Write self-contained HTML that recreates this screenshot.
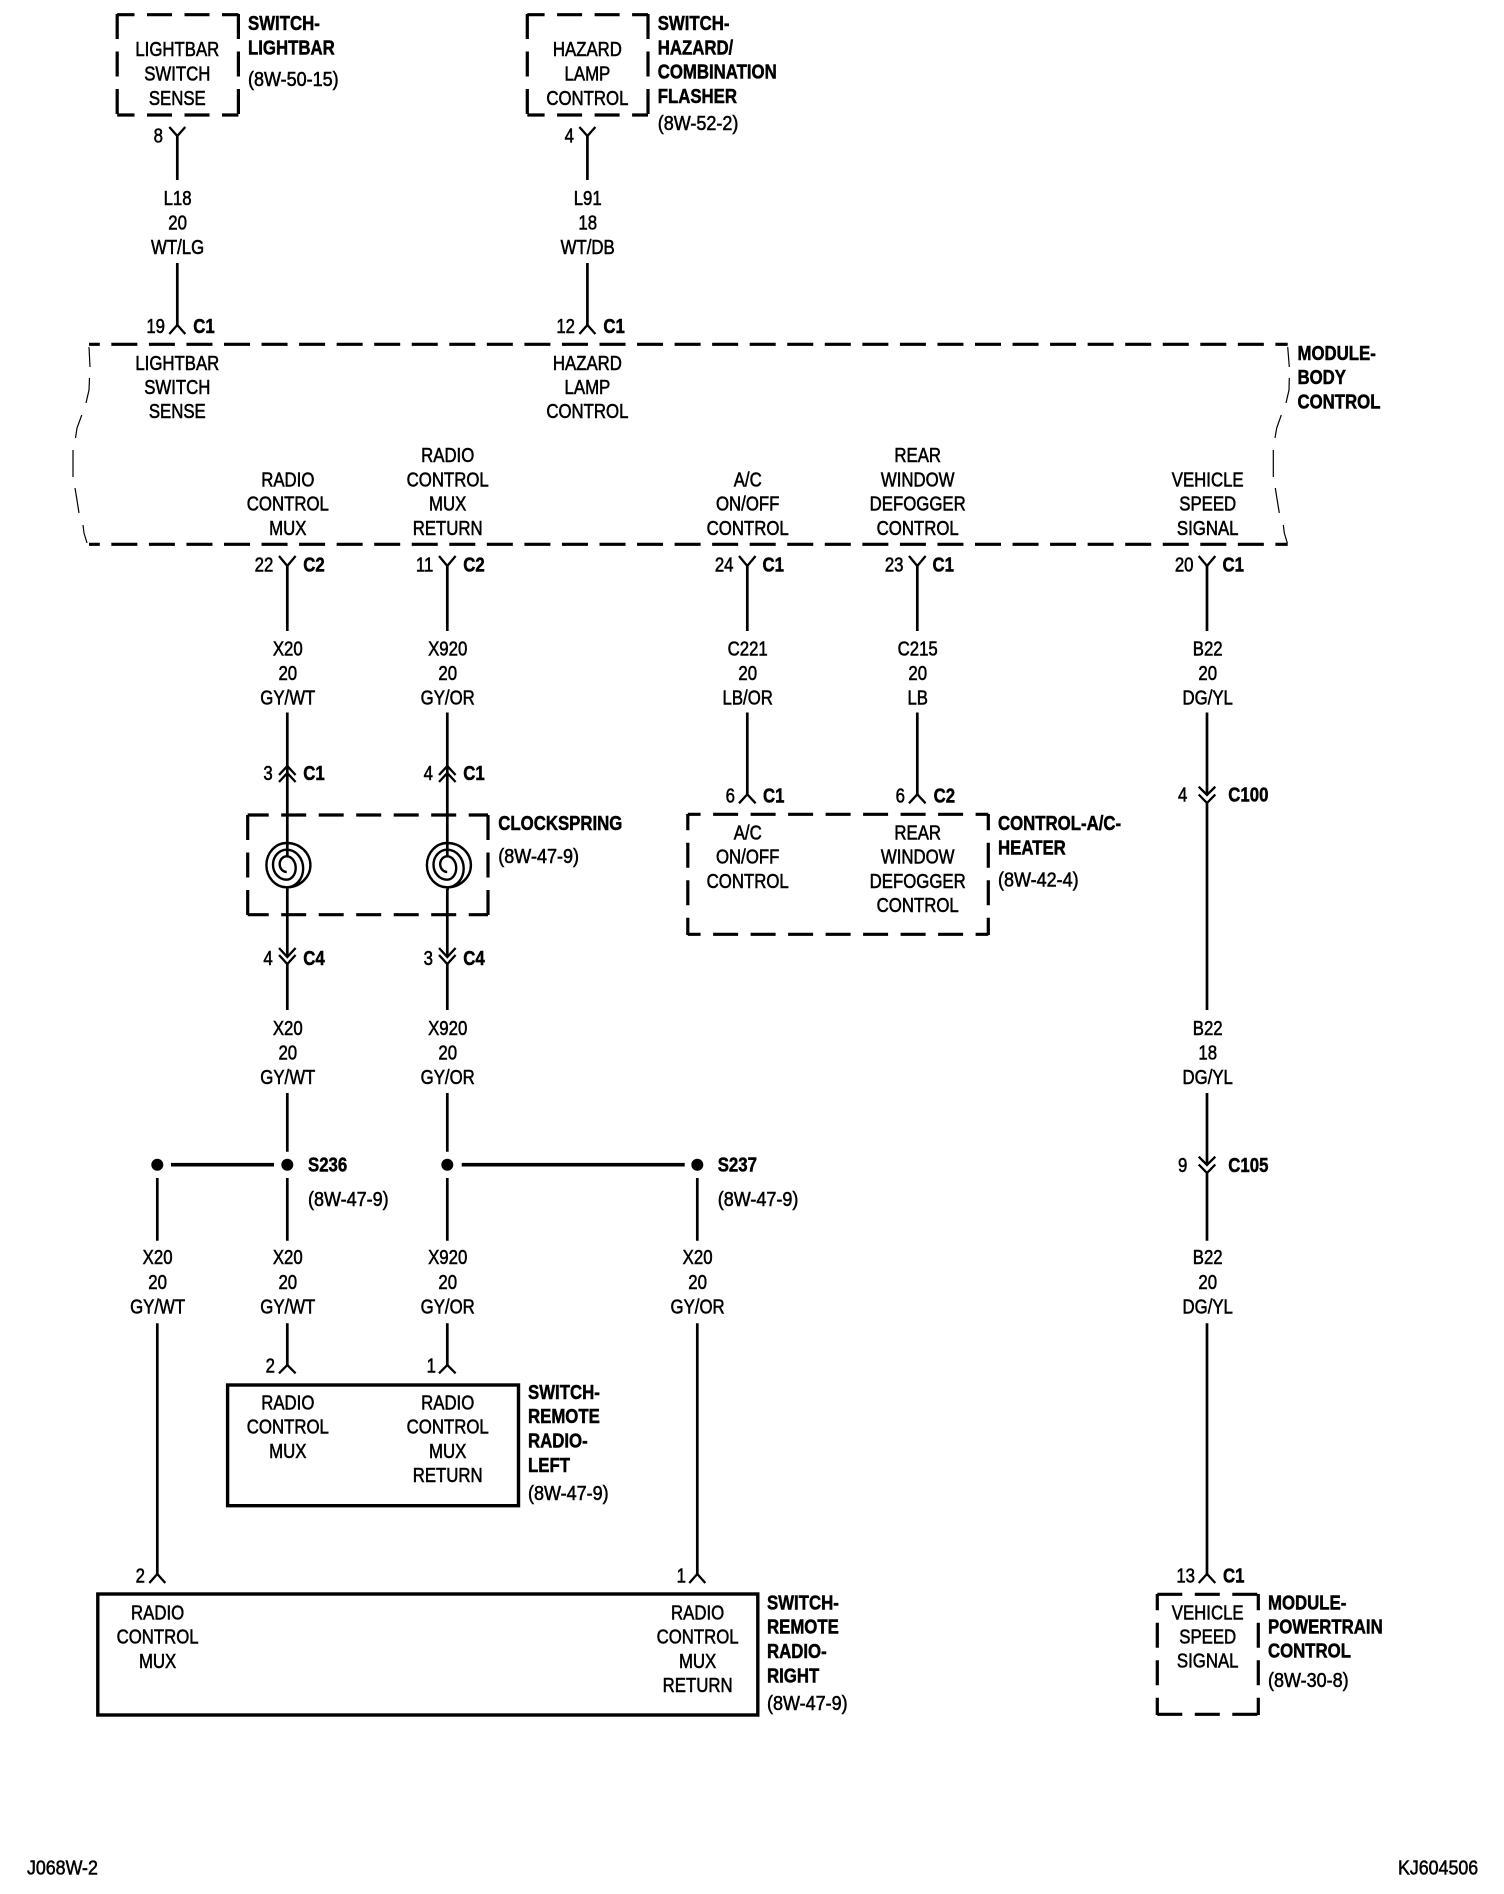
<!DOCTYPE html>
<html><head><meta charset="utf-8"><style>
html,body{margin:0;padding:0;background:#fff}
svg{display:block}
text{font-family:"Liberation Sans",sans-serif;font-size:20px;fill:#000;stroke:#000;stroke-width:.55}
.c{text-anchor:middle}.r{text-anchor:end}.b{font-weight:bold;stroke-width:.5}
.w{fill:none;stroke:#000;stroke-width:2.7}
.f{fill:none;stroke:#000;stroke-width:2.3}
.s{fill:none;stroke:#000;stroke-width:2.4}
.d{stroke:#000;stroke-width:3.2;fill:none}
.t{fill:none;stroke:#000;stroke-width:1.2}
</style></head><body>
<svg width="1504" height="1894" viewBox="0 0 1504 1894" xmlns="http://www.w3.org/2000/svg">
<rect width="1504" height="1894" fill="#fff"/>
<!-- wires -->
<path class="w" d="M177.3 135V180M177.3 263V325M587.4 135V180M587.4 263V325
M287.3 565V631M287.3 712.5V856M287.3 889V957M287.3 964V1010M287.3 1093V1151.7M287.3 1178V1240.7M287.3 1323.3V1365
M447.3 565V631M447.3 712.5V856M447.3 889V957M447.3 964V1010M447.3 1093V1151.7M447.3 1178V1240.7M447.3 1323.3V1365
M747.3 565V631M747.3 712.5V794.3M917.3 565V631M917.3 712.5V794.3
M1207 565V631M1207 712.5V795M1207 803V1010M1207 1093V1165M1207 1173V1240.7M1207 1323.3V1574
M157.3 1178V1240.7M157.3 1323.3V1574M697.3 1178V1240.7M697.3 1323.3V1574"/>
<!-- forks -->
<path class="f" d="M169.3 127L177.3 136L185.3 127M579.4 127L587.4 136L595.4 127
M169.3 334L177.3 325L185.3 334M579.4 334L587.4 325L595.4 334
M279 556L287.3 566L295.6 556M439 556L447.3 566L455.6 556M739 556L747.3 566L755.6 556M909 556L917.3 566L925.6 556M1198.7 556L1207 566L1215.3 556
M739 803.3L747.3 794.3L755.6 803.3M909 803.3L917.3 794.3L925.6 803.3
M279 1373.3L287.3 1365L295.6 1373.3M439 1373.3L447.3 1365L455.6 1373.3
M149.3 1583L157.3 1574L165.3 1583M689.3 1583L697.3 1574L705.3 1583M1198.7 1583L1207 1574L1215.3 1583
M279 775L287.3 766L295.6 775M279 782L287.3 773L295.6 782M439 775L447.3 766L455.6 775M439 782L447.3 773L455.6 782
M279 948L287.3 957L295.6 948M279 955L287.3 964L295.6 955M439 948L447.3 957L455.6 948M439 955L447.3 964L455.6 955
M1198.7 786.7L1207 795L1215.3 786.7M1198.7 794.5L1207 803L1215.3 794.5
M1198.7 1156.7L1207 1165L1215.3 1156.7M1198.7 1164.5L1207 1173L1215.3 1164.5"/>
<!-- spirals -->
<path class="s" d="M286.7 872A7 7.85 0 0 1 286.7 856.3A9 11.7 0 0 1 286.7 879.7A13.7 15 0 0 1 286.7 849.7A16.5 18.8 0 0 1 286.7 887.3A20.3 22.15 0 0 1 286.7 843A23.7 22.15 0 0 1 286.7 887.3L287.7 890"/>
<path class="s" d="M447.2 872A7 7.85 0 0 1 447.2 856.3A9 11.7 0 0 1 447.2 879.7A13.7 15 0 0 1 447.2 849.7A16.5 18.8 0 0 1 447.2 887.3A20.3 22.15 0 0 1 447.2 843A23.7 22.15 0 0 1 447.2 887.3L448 890"/>
<!-- splices -->
<circle cx="157.3" cy="1164.7" r="6"/><circle cx="287.3" cy="1164.7" r="6"/><circle cx="447.3" cy="1164.7" r="6"/><circle cx="697.3" cy="1164.7" r="6"/>
<path d="M171 1164.7H274M461.7 1164.7H684.7" stroke="#000" stroke-width="3.6" fill="none"/>
<!-- boxes -->
<g class="d" stroke-dasharray="25 12.5">
<path stroke-dashoffset="7.7" d="M117.2 14.7H238.4M117.2 115H238.4"/>
<path d="M117.2 14V116M238.4 14V116"/>
<path stroke-dashoffset="7.7" d="M527.3 14.7H648M527.3 115H648"/>
<path d="M527.3 14V116M648 14V116"/>
<!-- clockspring -->
<path stroke-dashoffset="4" d="M247.7 815H488M247.7 914.7H488"/>
<path d="M247.7 815V915M488 815V915"/>
<!-- A/C -->
<path stroke-dashoffset="12.2" d="M687.8 814.3H988.3M687.8 934.3H988.3"/>
<path stroke-dashoffset="8.8" d="M687.8 814V935M988.3 814V935"/>
<!-- PCM -->
<path d="M1157.3 1594.3H1258.3M1157.3 1714.3H1258.3"/>
<path stroke-dashoffset="8.8" d="M1157.3 1594V1715M1258.3 1594V1715"/>
</g>
<!-- BCM -->
<path class="d" stroke-width="3.4" stroke-dasharray="26 11.55" stroke-dashoffset="15.2" d="M89 344.3H1287.7M89 544.3H1287.7"/>
<path class="t" d="M1287.7 347L1289.3 367M1289.3 378L1289 390L1286 403M1281.3 415L1276.7 428L1275 438M1273.3 450V477M1275.3 488L1276.7 497L1279.3 513M1283.3 525L1284.3 533L1287.3 543"/>
<path class="t" d="M89 347L90 367M89.5 378L89 390L86 403M81.8 415L77 428L75.5 438M73 450V477M75 488L76.5 497L79 513M83 525L84 533L87 543"/>
<!-- solid boxes -->
<rect x="227.6" y="1385" width="290.9" height="120.7" fill="none" stroke="#000" stroke-width="3.4"/>
<rect x="97.8" y="1594" width="660" height="121" fill="none" stroke="#000" stroke-width="3.4"/>

<g transform="translate(0,-.7)">
<!-- top box texts -->
<text class="c" transform="translate(177.3,56.7) scale(.84,1)"><tspan x="0">LIGHTBAR</tspan><tspan x="0" dy="24.5">SWITCH</tspan><tspan x="0" dy="24.5">SENSE</tspan></text>
<text class="c" transform="translate(587.4,56.7) scale(.84,1)"><tspan x="0">HAZARD</tspan><tspan x="0" dy="24.5">LAMP</tspan><tspan x="0" dy="24.5">CONTROL</tspan></text>
<text class="b" transform="translate(248,30.7) scale(.84,1)"><tspan x="0">SWITCH-</tspan><tspan x="0" dy="24.3">LIGHTBAR</tspan></text>
<text transform="translate(248,86.7) scale(.9,1)">(8W-50-15)</text>
<text class="b" transform="translate(657.7,30.7) scale(.84,1)"><tspan x="0">SWITCH-</tspan><tspan x="0" dy="24.3">HAZARD/</tspan><tspan x="0" dy="24.3">COMBINATION</tspan><tspan x="0" dy="24.3">FLASHER</tspan></text>
<text transform="translate(657.7,130.7) scale(.9,1)">(8W-52-2)</text>
<text class="r" transform="translate(163,143.4) scale(.84,1)">8</text>
<text class="r" transform="translate(574,143.4) scale(.84,1)">4</text>

<text class="c" transform="translate(177.6,205.7) scale(.84,1)"><tspan x="0">L18</tspan><tspan x="0" dy="24.5">20</tspan><tspan x="0" dy="24.5">WT/LG</tspan></text>
<text class="c" transform="translate(587.7,205.7) scale(.84,1)"><tspan x="0">L91</tspan><tspan x="0" dy="24.5">18</tspan><tspan x="0" dy="24.5">WT/DB</tspan></text>

<text class="r" transform="translate(165,333.7) scale(.84,1)">19</text>
<text class="b" transform="translate(193.3,333.7) scale(.84,1)">C1</text>
<text class="r" transform="translate(575,333.7) scale(.84,1)">12</text>
<text class="b" transform="translate(603.4,333.7) scale(.84,1)">C1</text>

<!-- module texts -->
<text class="c" transform="translate(177.3,370.7) scale(.84,1)"><tspan x="0">LIGHTBAR</tspan><tspan x="0" dy="24">SWITCH</tspan><tspan x="0" dy="24">SENSE</tspan></text>
<text class="c" transform="translate(587.4,370.7) scale(.84,1)"><tspan x="0">HAZARD</tspan><tspan x="0" dy="24">LAMP</tspan><tspan x="0" dy="24">CONTROL</tspan></text>
<text class="b" transform="translate(1297.5,360.7) scale(.84,1)"><tspan x="0">MODULE-</tspan><tspan x="0" dy="24.2">BODY</tspan><tspan x="0" dy="24.2">CONTROL</tspan></text>
<text class="c" transform="translate(287.8,487) scale(.84,1)"><tspan x="0">RADIO</tspan><tspan x="0" dy="24.3">CONTROL</tspan><tspan x="0" dy="24.3">MUX</tspan></text>
<text class="c" transform="translate(447.7,462.7) scale(.84,1)"><tspan x="0">RADIO</tspan><tspan x="0" dy="24.3">CONTROL</tspan><tspan x="0" dy="24.3">MUX</tspan><tspan x="0" dy="24.3">RETURN</tspan></text>
<text class="c" transform="translate(747.7,487) scale(.84,1)"><tspan x="0">A/C</tspan><tspan x="0" dy="24.3">ON/OFF</tspan><tspan x="0" dy="24.3">CONTROL</tspan></text>
<text class="c" transform="translate(917.7,462.7) scale(.84,1)"><tspan x="0">REAR</tspan><tspan x="0" dy="24.3">WINDOW</tspan><tspan x="0" dy="24.3">DEFOGGER</tspan><tspan x="0" dy="24.3">CONTROL</tspan></text>
<text class="c" transform="translate(1207.7,487) scale(.84,1)"><tspan x="0">VEHICLE</tspan><tspan x="0" dy="24.3">SPEED</tspan><tspan x="0" dy="24.3">SIGNAL</tspan></text>

<!-- under module pins -->
<text class="r" transform="translate(273.3,572.4) scale(.84,1)">22</text><text class="b" transform="translate(303.3,572.4) scale(.84,1)">C2</text>
<text class="r" transform="translate(433.3,572.4) scale(.84,1)">11</text><text class="b" transform="translate(463.3,572.4) scale(.84,1)">C2</text>
<text class="r" transform="translate(733.5,572.4) scale(.84,1)">24</text><text class="b" transform="translate(762.5,572.4) scale(.84,1)">C1</text>
<text class="r" transform="translate(903.5,572.4) scale(.84,1)">23</text><text class="b" transform="translate(932.5,572.4) scale(.84,1)">C1</text>
<text class="r" transform="translate(1193.5,572.4) scale(.84,1)">20</text><text class="b" transform="translate(1222.5,572.4) scale(.84,1)">C1</text>

<!-- wire labels row 1 -->
<text class="c" transform="translate(287.8,656) scale(.84,1)"><tspan x="0">X20</tspan><tspan x="0" dy="24.5">20</tspan><tspan x="0" dy="24.5">GY/WT</tspan></text>
<text class="c" transform="translate(447.7,656) scale(.84,1)"><tspan x="0">X920</tspan><tspan x="0" dy="24.5">20</tspan><tspan x="0" dy="24.5">GY/OR</tspan></text>
<text class="c" transform="translate(747.7,656) scale(.84,1)"><tspan x="0">C221</tspan><tspan x="0" dy="24.5">20</tspan><tspan x="0" dy="24.5">LB/OR</tspan></text>
<text class="c" transform="translate(917.7,656) scale(.84,1)"><tspan x="0">C215</tspan><tspan x="0" dy="24.5">20</tspan><tspan x="0" dy="24.5">LB</tspan></text>
<text class="c" transform="translate(1207.7,656) scale(.84,1)"><tspan x="0">B22</tspan><tspan x="0" dy="24.5">20</tspan><tspan x="0" dy="24.5">DG/YL</tspan></text>

<!-- clockspring pins -->
<text class="r" transform="translate(272.7,780.7) scale(.84,1)">3</text><text class="b" transform="translate(303.3,780.7) scale(.84,1)">C1</text>
<text class="r" transform="translate(433,780.7) scale(.84,1)">4</text><text class="b" transform="translate(463.3,780.7) scale(.84,1)">C1</text>
<text class="b" transform="translate(498.3,830.7) scale(.84,1)">CLOCKSPRING</text>
<text transform="translate(498.3,863.7) scale(.9,1)">(8W-47-9)</text>
<text class="r" transform="translate(272.7,965.7) scale(.84,1)">4</text><text class="b" transform="translate(303.3,965.7) scale(.84,1)">C4</text>
<text class="r" transform="translate(433,965.7) scale(.84,1)">3</text><text class="b" transform="translate(463.3,965.7) scale(.84,1)">C4</text>

<!-- A/C box -->
<text class="r" transform="translate(735,803.4) scale(.84,1)">6</text><text class="b" transform="translate(763,803.4) scale(.84,1)">C1</text>
<text class="r" transform="translate(905,803.4) scale(.84,1)">6</text><text class="b" transform="translate(933.6,803.4) scale(.84,1)">C2</text>
<text class="c" transform="translate(747.7,840) scale(.84,1)"><tspan x="0">A/C</tspan><tspan x="0" dy="24.3">ON/OFF</tspan><tspan x="0" dy="24.3">CONTROL</tspan></text>
<text class="c" transform="translate(917.7,840) scale(.84,1)"><tspan x="0">REAR</tspan><tspan x="0" dy="24.3">WINDOW</tspan><tspan x="0" dy="24.3">DEFOGGER</tspan><tspan x="0" dy="24.3">CONTROL</tspan></text>
<text class="b" transform="translate(998,830.7) scale(.84,1)"><tspan x="0">CONTROL-A/C-</tspan><tspan x="0" dy="24.5">HEATER</tspan></text>
<text transform="translate(998,887.4) scale(.9,1)">(8W-42-4)</text>

<text class="r" transform="translate(1187.3,802.4) scale(.84,1)">4</text><text class="b" transform="translate(1228.3,802.4) scale(.84,1)">C100</text>
<text class="r" transform="translate(1187.3,1172.7) scale(.84,1)">9</text><text class="b" transform="translate(1228.3,1172.7) scale(.84,1)">C105</text>

<!-- wire labels row 2 -->
<text class="c" transform="translate(287.8,1035.7) scale(.84,1)"><tspan x="0">X20</tspan><tspan x="0" dy="24.5">20</tspan><tspan x="0" dy="24.5">GY/WT</tspan></text>
<text class="c" transform="translate(447.7,1035.7) scale(.84,1)"><tspan x="0">X920</tspan><tspan x="0" dy="24.5">20</tspan><tspan x="0" dy="24.5">GY/OR</tspan></text>
<text class="c" transform="translate(1207.7,1035.7) scale(.84,1)"><tspan x="0">B22</tspan><tspan x="0" dy="24.5">18</tspan><tspan x="0" dy="24.5">DG/YL</tspan></text>

<!-- splice labels -->
<text class="b" transform="translate(308,1172.4) scale(.84,1)">S236</text>
<text transform="translate(308,1206.7) scale(.9,1)">(8W-47-9)</text>
<text class="b" transform="translate(717.7,1172.4) scale(.84,1)">S237</text>
<text transform="translate(717.7,1206.7) scale(.9,1)">(8W-47-9)</text>

<!-- wire labels row 3 -->
<text class="c" transform="translate(157.6,1264.8) scale(.84,1)"><tspan x="0">X20</tspan><tspan x="0" dy="24.7">20</tspan><tspan x="0" dy="24.7">GY/WT</tspan></text>
<text class="c" transform="translate(287.8,1264.8) scale(.84,1)"><tspan x="0">X20</tspan><tspan x="0" dy="24.7">20</tspan><tspan x="0" dy="24.7">GY/WT</tspan></text>
<text class="c" transform="translate(447.7,1264.8) scale(.84,1)"><tspan x="0">X920</tspan><tspan x="0" dy="24.7">20</tspan><tspan x="0" dy="24.7">GY/OR</tspan></text>
<text class="c" transform="translate(697.6,1264.8) scale(.84,1)"><tspan x="0">X20</tspan><tspan x="0" dy="24.7">20</tspan><tspan x="0" dy="24.7">GY/OR</tspan></text>
<text class="c" transform="translate(1207.7,1264.8) scale(.84,1)"><tspan x="0">B22</tspan><tspan x="0" dy="24.7">20</tspan><tspan x="0" dy="24.7">DG/YL</tspan></text>

<!-- left switch -->
<text class="r" transform="translate(275,1373.4) scale(.84,1)">2</text>
<text class="r" transform="translate(436,1373.4) scale(.84,1)">1</text>
<text class="c" transform="translate(287.8,1410) scale(.84,1)"><tspan x="0">RADIO</tspan><tspan x="0" dy="24.3">CONTROL</tspan><tspan x="0" dy="24.3">MUX</tspan></text>
<text class="c" transform="translate(447.7,1410) scale(.84,1)"><tspan x="0">RADIO</tspan><tspan x="0" dy="24.3">CONTROL</tspan><tspan x="0" dy="24.3">MUX</tspan><tspan x="0" dy="24.3">RETURN</tspan></text>
<text class="b" transform="translate(528,1399.5) scale(.84,1)"><tspan x="0">SWITCH-</tspan><tspan x="0" dy="24.4">REMOTE</tspan><tspan x="0" dy="24.4">RADIO-</tspan><tspan x="0" dy="24.4">LEFT</tspan></text>
<text transform="translate(528,1500.7) scale(.9,1)">(8W-47-9)</text>

<!-- right switch -->
<text class="r" transform="translate(145,1583.4) scale(.84,1)">2</text>
<text class="r" transform="translate(686,1583.4) scale(.84,1)">1</text>
<text class="c" transform="translate(157.6,1620) scale(.84,1)"><tspan x="0">RADIO</tspan><tspan x="0" dy="24.3">CONTROL</tspan><tspan x="0" dy="24.3">MUX</tspan></text>
<text class="c" transform="translate(697.6,1620) scale(.84,1)"><tspan x="0">RADIO</tspan><tspan x="0" dy="24.3">CONTROL</tspan><tspan x="0" dy="24.3">MUX</tspan><tspan x="0" dy="24.3">RETURN</tspan></text>
<text class="b" transform="translate(767,1610) scale(.84,1)"><tspan x="0">SWITCH-</tspan><tspan x="0" dy="24.4">REMOTE</tspan><tspan x="0" dy="24.4">RADIO-</tspan><tspan x="0" dy="24.4">RIGHT</tspan></text>
<text transform="translate(767,1710.7) scale(.9,1)">(8W-47-9)</text>

<!-- PCM -->
<text class="r" transform="translate(1195,1583.4) scale(.84,1)">13</text><text class="b" transform="translate(1223,1583.4) scale(.84,1)">C1</text>
<text class="c" transform="translate(1207.7,1620) scale(.84,1)"><tspan x="0">VEHICLE</tspan><tspan x="0" dy="24.2">SPEED</tspan><tspan x="0" dy="24.2">SIGNAL</tspan></text>
<text class="b" transform="translate(1268,1610) scale(.84,1)"><tspan x="0">MODULE-</tspan><tspan x="0" dy="24.2">POWERTRAIN</tspan><tspan x="0" dy="24.2">CONTROL</tspan></text>
<text transform="translate(1268,1687.7) scale(.9,1)">(8W-30-8)</text>

<!-- footer -->
<text transform="translate(27,1875) scale(.89,1)">J068W-2</text>
<text transform="translate(1398,1875) scale(.89,1)">KJ604506</text>
</g>
</svg>
</body></html>
